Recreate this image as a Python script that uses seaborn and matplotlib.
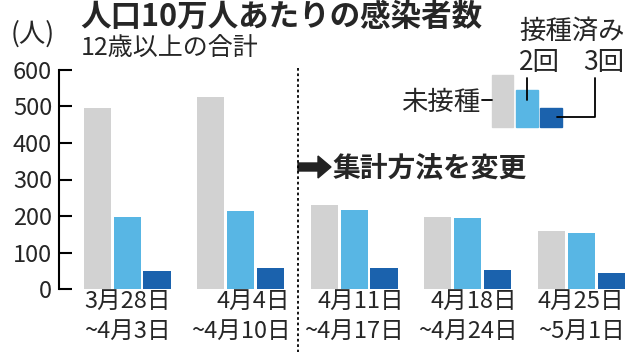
import matplotlib
matplotlib.use('Agg')
import matplotlib.pyplot as plt
import seaborn as sns
import pandas as pd
from matplotlib.patches import Rectangle, FancyArrow
from matplotlib.lines import Line2D
from matplotlib.transforms import IdentityTransform

# ---- data ----
periods = ["3月28日\n~4月3日", "4月4日\n~4月10日", "4月11日\n~4月17日",
           "4月18日\n~4月24日", "4月25日\n~5月1日"]
unvaccinated = [495, 527, 229, 198, 160]
dose2 = [198, 214, 216, 195, 153]
dose3 = [49, 57, 57, 52, 45]
groups = ["未接種", "2回", "3回"]
colors = ["#d2d2d2", "#58b6e4", "#1b62ad"]
yticks = [0, 100, 200, 300, 400, 500, 600]

sns.set_theme(style='white')
plt.rcParams['font.family'] = ['Noto Sans CJK JP', 'DejaVu Sans']

df = pd.DataFrame({
    'period': periods * 3,
    'group': [g for g in groups for _ in periods],
    'value': unvaccinated + dose2 + dose3,
})

W, H = 640, 352
fig = plt.figure(figsize=(W / 100, H / 100), dpi=100)
ax = fig.add_axes([59 / W, 63 / H, (638 - 59) / W, 219 / H])
sns.barplot(data=df, x='period', y='value', hue='group', hue_order=groups,
            palette=colors, width=0.79, gap=0.09, saturation=1, linewidth=0,
            legend=False, ax=ax)
ax.set_xlim(-0.6, 4.5)
ax.set_ylim(0, 600)
ax.set_yticks(yticks)
ax.set_xlabel('')
ax.set_ylabel('')
for s in ['top', 'right', 'bottom']:
    ax.spines[s].set_visible(False)
ax.spines['left'].set_color('black')
ax.spines['left'].set_linewidth(1.5)
ax.tick_params(axis='y', direction='in', length=9, width=1.5, color='black',
               labelsize=17, pad=5, left=True)
ax.tick_params(axis='x', length=0, labelsize=17, pad=1)
for lab in ax.get_xticklabels():
    lab.set_multialignment('right')
    lab.set_linespacing(1.35)


def px(x, y):
    return x / W, 1 - y / H


# titles
fig.text(*px(80, 1), "人口10万人あたりの感染者数", fontsize=22, fontweight='bold',
         ha='left', va='top')
fig.text(*px(11, 20), "(人)", fontsize=19, ha='left', va='top')
fig.text(*px(81, 36), "12歳以上の合計", fontsize=18, ha='left', va='top')

# dotted separator
fig.add_artist(Line2D([298 / W, 298 / W], [1 - 68 / H, 0], color='black',
                      lw=1.3, linestyle=(0, (1.5, 1.5)), transform=fig.transFigure))

# arrow + note
arr = FancyArrow(298, H - 167, 33, 0, width=8, head_width=22, head_length=13,
                 length_includes_head=True, color='#222222',
                 transform=IdentityTransform())
fig.add_artist(arr)
fig.text(*px(333, 168), "集計方法を変更", fontsize=20, fontweight='bold',
         ha='left', va='center')

# legend
for (x0, y0, x1, c) in [(492, 75, 513, colors[0]), (516, 90, 538, colors[1]),
                        (540, 108, 562, colors[2])]:
    fig.add_artist(Rectangle((x0 / W, 1 - 127 / H), (x1 - x0) / W, (127 - y0) / H,
                             color=c, transform=fig.transFigure))
for xs, ys in [([482, 492], [100, 100]), ([527, 527], [78, 100]),
               ([595, 595, 557], [78, 117, 117])]:
    fig.add_artist(Line2D([x / W for x in xs], [1 - y / H for y in ys],
                          color='black', lw=1.3, transform=fig.transFigure))
fig.text(*px(519, 31), "接種済み", fontsize=19, ha='left', va='center')
fig.text(*px(519, 63), "2回", fontsize=19, ha='left', va='center')
fig.text(*px(583, 63), "3回", fontsize=19, ha='left', va='center')
fig.text(*px(480, 102), "未接種", fontsize=19, ha='right', va='center')

fig.savefig('out.png', dpi=100)
